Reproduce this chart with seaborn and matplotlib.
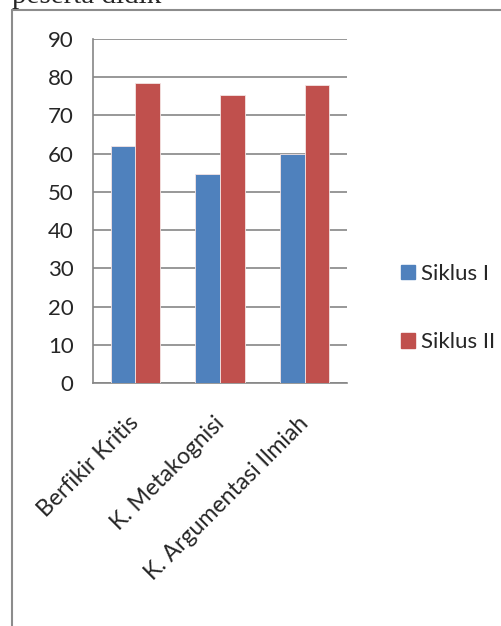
import numpy as np
import pandas as pd
import seaborn as sns
import matplotlib.pyplot as plt
from matplotlib.lines import Line2D
from matplotlib.transforms import ScaledTranslation

# DATA
categories = ["Berfikir Kritis", "K. Metakognisi", "K. Argumentasi Ilmiah"]
siklus_1 = [62.1, 54.6, 59.9]
siklus_2 = [78.6, 75.4, 77.9]
series_names = ["Siklus I", "Siklus II"]
y_ticks = [0, 10, 20, 30, 40, 50, 60, 70, 80, 90]

df = pd.DataFrame({
    "Kategori": categories * 2,
    "Nilai": siklus_1 + siklus_2,
    "Siklus": [series_names[0]] * 3 + [series_names[1]] * 3,
})

sns.set_style("white")
plt.rcParams["font.family"] = ["Lato", "DejaVu Sans"]

W, H = 501, 626
FS = 16
colors = ["#4F81BD", "#C0504D"]
fig = plt.figure(figsize=(W / 100, H / 100), dpi=100)
ax = fig.add_axes([93 / W, 1 - 383 / H, (347 - 93) / W, (383 - 39) / H])

sns.barplot(data=df, x="Kategori", y="Nilai", hue="Siklus",
            palette=colors, saturation=1, width=0.58,
            edgecolor="#f4e4e4", linewidth=0.6, ax=ax, zorder=3, legend=False)

grid_col = "#868686"
ax.set_ylim(0, 90)
ax.set_xlim(-0.5, 2.5)
ax.set_yticks(y_ticks)
ax.set_yticklabels([str(t) for t in y_ticks], fontsize=FS)
ax.yaxis.grid(True, color=grid_col, linewidth=1.2, zorder=0)
ax.set_axisbelow(True)
ax.tick_params(axis="y", length=9, width=1.2, color=grid_col, pad=5)

ax.set_xticks(range(3))
ax.set_xticklabels(categories, rotation=45, ha="right", rotation_mode="anchor", fontsize=16.6)
ax.tick_params(axis="x", which="major", length=0, pad=14)
ax.set_xticks([-0.5, 0.5, 1.5, 2.5], minor=True)
ax.tick_params(axis="x", which="minor", length=7, width=1.2, color=grid_col, direction="out")
shift = ScaledTranslation(-0.07, -0.10, fig.dpi_scale_trans)
for lab in ax.get_xticklabels():
    lab.set_transform(lab.get_transform() + shift)

for s in ["top", "right"]:
    ax.spines[s].set_visible(False)
for s in ["left", "bottom"]:
    ax.spines[s].set_color(grid_col)
    ax.spines[s].set_linewidth(1.2)
ax.set_xlabel("")
ax.set_ylabel("")

# legend
handles = [plt.Rectangle((0, 0), 1, 1, color=c) for c in colors]
fig.legend(handles, series_names, loc="center left",
           bbox_to_anchor=(401 / W, 1 - 308 / H), frameon=False, borderpad=0,
           borderaxespad=0, fontsize=FS, handlelength=0.62, handleheight=0.62,
           handletextpad=0.3, labelspacing=2.2)

# outer frame and cut-off heading
frame_col = "#8c8c8c"
fig.add_artist(Line2D([12 / W, 12 / W], [0, 1 - 10 / H], color=frame_col, linewidth=1.5))
fig.add_artist(Line2D([12 / W, 1], [1 - 10 / H, 1 - 10 / H], color=frame_col, linewidth=1.5))
fig.text(12 / W, 1 - 3 / H, "peserta didik", family="Liberation Serif",
         fontsize=21, va="baseline", ha="left")

fig.savefig("out.png", dpi=100)
